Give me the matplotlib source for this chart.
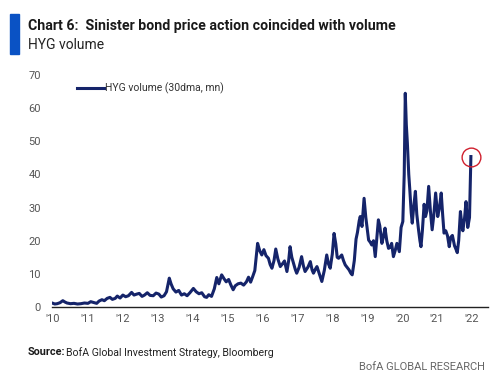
import matplotlib.pyplot as plt
from matplotlib.patches import Rectangle

# HYG volume, 30dma, mn shares (x as decimal years)
years = [
    2010.00, 2010.05, 2010.12, 2010.20, 2010.28, 2010.34, 2010.40, 2010.50, 2010.60, 2010.70,
    2010.80, 2010.90, 2011.00, 2011.08, 2011.15, 2011.25, 2011.32, 2011.40, 2011.47, 2011.55,
    2011.63, 2011.70, 2011.78, 2011.84, 2011.92, 2012.00, 2012.08, 2012.16, 2012.25, 2012.32,
    2012.40, 2012.47, 2012.55, 2012.62, 2012.70, 2012.78, 2012.87, 2012.95, 2013.03, 2013.10,
    2013.18, 2013.25, 2013.33, 2013.38, 2013.44, 2013.52, 2013.60, 2013.68, 2013.76, 2013.84,
    2013.92, 2014.02, 2014.10, 2014.18, 2014.26, 2014.34, 2014.40, 2014.46, 2014.54, 2014.62,
    2014.69, 2014.75, 2014.83, 2014.90, 2014.96, 2015.03, 2015.10, 2015.16, 2015.22, 2015.30,
    2015.38, 2015.46, 2015.54, 2015.60, 2015.66, 2015.72, 2015.78, 2015.86, 2015.92, 2015.98,
    2016.04, 2016.10, 2016.17, 2016.22, 2016.27, 2016.33, 2016.38, 2016.44, 2016.51, 2016.57,
    2016.63, 2016.70, 2016.75, 2016.79, 2016.84, 2016.89, 2016.94, 2016.98, 2017.05, 2017.12,
    2017.17, 2017.22, 2017.30, 2017.37, 2017.42, 2017.46, 2017.52, 2017.56, 2017.63, 2017.70,
    2017.77, 2017.84, 2017.89, 2017.94, 2018.00, 2018.05, 2018.10, 2018.14, 2018.18, 2018.23,
    2018.27, 2018.32, 2018.37, 2018.42, 2018.48, 2018.53, 2018.57, 2018.63, 2018.68, 2018.72,
    2018.77, 2018.80, 2018.85, 2018.91, 2018.96, 2019.00, 2019.04, 2019.09, 2019.13, 2019.18,
    2019.23, 2019.27, 2019.32, 2019.36, 2019.42, 2019.46, 2019.51, 2019.56, 2019.61, 2019.66,
    2019.70, 2019.75, 2019.80, 2019.85, 2019.92, 2019.97, 2020.02, 2020.06, 2020.09, 2020.12,
    2020.15, 2020.19, 2020.22, 2020.26, 2020.29, 2020.33, 2020.38, 2020.42, 2020.47, 2020.51,
    2020.54, 2020.58, 2020.63, 2020.67, 2020.71, 2020.76, 2020.81, 2020.86, 2020.91, 2020.96,
    2021.02, 2021.07, 2021.12, 2021.16, 2021.20, 2021.25, 2021.30, 2021.35, 2021.39, 2021.44,
    2021.50, 2021.54, 2021.58, 2021.62, 2021.67, 2021.71, 2021.74, 2021.79, 2021.83, 2021.88,
    2021.93, 2021.97,
]
volume = [
    1.1, 0.9, 1.0, 1.3, 1.9, 1.5, 1.2, 1.0, 1.1, 0.9,
    1.0, 1.2, 1.1, 1.6, 1.4, 1.1, 1.8, 2.2, 1.9, 2.6,
    2.9, 2.3, 2.6, 3.3, 2.7, 3.6, 3.1, 3.4, 4.4, 3.6,
    3.9, 4.1, 3.2, 3.6, 4.3, 3.5, 3.4, 4.2, 3.9, 3.0,
    3.4, 4.6, 8.7, 7.0, 5.5, 4.5, 5.0, 3.6, 4.0, 3.4,
    4.3, 5.6, 4.6, 4.0, 4.3, 3.1, 2.9, 3.7, 3.2, 5.5,
    8.9, 7.0, 9.7, 8.5, 7.6, 8.3, 6.5, 5.2, 6.4, 7.0,
    7.2, 6.6, 7.6, 9.0, 7.5, 9.2, 11.0, 19.2, 17.0, 15.7,
    17.3, 15.5, 14.7, 12.8, 11.7, 14.0, 17.5, 14.5, 12.2, 13.0,
    13.9, 10.7, 14.0, 18.2, 15.0, 13.2, 11.3, 10.2, 12.0, 15.2,
    12.5, 10.7, 12.0, 13.7, 11.2, 10.2, 11.5, 12.2, 10.0, 7.7,
    11.0, 15.7, 13.0, 11.7, 16.0, 22.2, 19.0, 15.0, 14.7, 15.2,
    15.7, 14.0, 12.7, 12.0, 11.2, 10.2, 9.7, 14.0, 20.5, 22.5,
    26.0, 27.3, 24.3, 32.8, 27.0, 23.5, 20.2, 19.5, 18.7, 20.0,
    15.2, 20.0, 26.3, 24.5, 19.2, 21.0, 23.8, 20.0, 17.7, 18.0,
    19.2, 15.2, 17.0, 19.2, 16.7, 24.0, 25.8, 40.0, 64.5, 55.0,
    49.5, 40.0, 35.4, 28.5, 25.3, 30.0, 34.9, 28.0, 23.3, 20.0,
    18.2, 23.0, 31.0, 27.3, 29.0, 36.4, 29.0, 23.3, 28.0, 34.4,
    27.3, 30.0, 34.4, 28.0, 22.3, 23.0, 21.5, 18.2, 21.0, 21.6,
    18.5, 17.5, 16.4, 20.0, 28.8, 25.0, 23.0, 27.0, 31.8, 24.0,
    27.0, 45.4,
]
tick_years = list(range(2010, 2023))
tick_labels = ["'10", "'11", "'12", "'13", "'14", "'15", "'16", "'17", "'18", "'19", "'20", "'21", "'22"]
y_ticks = [0, 10, 20, 30, 40, 50, 60, 70]

NAVY = "#15246a"
GREY = "#555555"
plt.rcParams["font.family"] = ["Roboto", "DejaVu Sans"]

fig = plt.figure(figsize=(5.0, 3.79), dpi=100)
ax = fig.add_axes([0.104, 0.19, 0.872, 0.612])

ax.plot(years, volume, color=NAVY, lw=2.2, label="HYG volume (30dma, mn)", solid_joinstyle="round")
# highlight the latest reading
ax.plot(years[-1], volume[-1], "o", ms=13.5, mfc="none", mec="#d0202e", mew=1.0)

ax.set_xlim(2009.97, 2022.46)
ax.set_ylim(0, 70)
ax.set_xticks(tick_years)
ax.set_xticklabels(tick_labels)
ax.set_yticks(y_ticks)
ax.tick_params(axis="both", length=0, labelsize=8, colors=GREY)
ax.tick_params(axis="y", pad=8)
ax.tick_params(axis="x", pad=5)
for s in ["left", "right", "top"]:
    ax.spines[s].set_visible(False)
ax.spines["bottom"].set_color("#222222")
ax.spines["bottom"].set_linewidth(1.0)

leg = ax.legend(loc="upper left", bbox_to_anchor=(0.04, 1.0), frameon=False, fontsize=7.5,
                handlelength=2.6, handletextpad=0.1, borderaxespad=0.3)
for t in leg.get_texts():
    t.set_color("#333333")

# header
fig.patches.append(Rectangle((0.02, 0.857), 0.018, 0.106, transform=fig.transFigure,
                             color="#0a52c4", zorder=5))
fig.text(0.056, 0.931, "Chart 6:  Sinister bond price action coincided with volume",
         fontsize=10.2, fontweight="bold", color="#1a1a1a", va="center")
fig.text(0.056, 0.880, "HYG volume", fontsize=10, color="#222222", va="center")

# footer
fig.text(0.056, 0.071, "Source:", fontsize=7.8, fontweight="bold", color="#1a1a1a", va="center")
fig.text(0.133, 0.071, "BofA Global Investment Strategy, Bloomberg", fontsize=7.6,
         color="#222222", va="center")
fig.text(0.97, 0.031, "BofA GLOBAL RESEARCH", fontsize=8, color="#666666", va="center", ha="right")

fig.savefig("out.png", dpi=100)
